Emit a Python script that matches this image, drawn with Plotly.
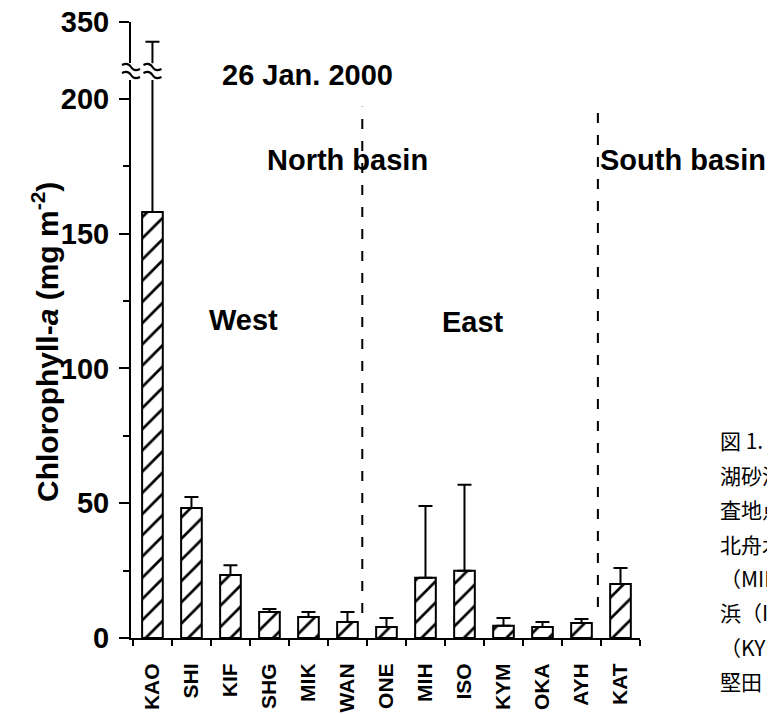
import plotly.graph_objects as go

# ---- data ----
sites = ["KAO", "SHI", "KIF", "SHG", "MIK", "WAN", "ONE", "MIH", "ISO", "KYM", "OKA", "AYH", "KAT"]
chl_mean = [158, 48.2, 23.4, 9.6, 7.8, 5.9, 4.1, 22.3, 24.9, 4.5, 4.1, 5.6, 20.0]
chl_sd = [168, 4.1, 3.6, 1.2, 1.8, 3.7, 3.3, 26.7, 31.9, 2.9, 1.8, 1.4, 6.0]
lower_ticks = [0, 50, 100, 150, 200]
upper_ticks = [350]

# ---- layout geometry (window pixels; the page body has an 8px margin) ----
OFF = 8
W, H = 775 - OFF, 714 - OFF
PL, PR, PT, PB = 131, 640, 22, 638          # plot-area edges in window pixels
ML, MT = PL - OFF, PT - OFF
MR, MB = W - (PR - OFF), H - (PB - OFF)
PW, PH = PR - PL, PB - PT
XR = [-0.55, 12.5]
LOW_DOM = [0, 0.906]
UP_DOM = [0.933, 1.0]


def px(xp):
    return (xp - PL) / PW


def py(yp):
    return (PB - yp) / PH


FONT = "Liberation Sans, Arial, sans-serif"
bar_style = dict(
    color="white",
    line=dict(color="black", width=2),
    pattern=dict(shape="/", fgcolor="black", bgcolor="white", size=15, solidity=0.18, fillmode="replace"),
)
err_style = dict(type="data", symmetric=False, array=chl_sd, arrayminus=[0] * len(chl_sd),
                 color="black", thickness=2, width=7)

fig = go.Figure()
for xa, ya in (("x", "y"), ("x2", "y2")):
    fig.add_trace(go.Bar(x=sites, y=chl_mean, xaxis=xa, yaxis=ya, marker=bar_style,
                         error_y=err_style, showlegend=False, width=0.53))

axis_common = dict(showline=True, linecolor="black", linewidth=2, ticks="outside",
                   tickcolor="black", tickwidth=2, showgrid=False, zeroline=False,
                   automargin=False, ticklabelstandoff=4, ticklabeloverflow="allow",
                   tickfont=dict(family=FONT, size=29, color="black", weight="bold"))

fig.update_layout(
    width=W, height=H,
    margin=dict(l=ML, r=MR, t=MT, b=MB, autoexpand=False),
    paper_bgcolor="white", plot_bgcolor="white",
    xaxis=dict(type="category", range=XR, anchor="y", showline=True, linecolor="black",
               linewidth=2, ticks="outside", tickson="boundaries", ticklen=6, tickwidth=2,
               tickcolor="black", tickangle=-90, showgrid=False, ticklabelstandoff=15,
               automargin=False, ticklabeloverflow="allow",
               tickfont=dict(family=FONT, size=21, color="black", weight="bold")),
    xaxis2=dict(type="category", matches="x", anchor="y2", visible=False, range=XR,
                automargin=False),
    yaxis=dict(domain=LOW_DOM, range=[0, 207], tickvals=lower_ticks, ticklen=10, anchor="x",
               minor=dict(ticks="outside", dtick=25, ticklen=6, tickwidth=1.5, tickcolor="black"),
               **axis_common),
    yaxis2=dict(domain=UP_DOM, range=[300, 350], tickvals=upper_ticks, ticklen=10, anchor="x2",
                **axis_common),
)

# dashed basin separators
for xpos, y0, y1 in ((5.38, 9.3, 197), (11.42, 11.5, 198)):
    fig.add_shape(type="line", xref="x", yref="y", x0=xpos, x1=xpos, y0=y0, y1=y1,
                  line=dict(color="black", width=2, dash="10px,12px"))

# axis-break marks (on y axis and on KAO error line)
def xidx2paper(i):
    return (i - XR[0]) / (XR[1] - XR[0])


for xc in (0.0, xidx2paper(0)):
    for yc in (67, 75):
        path = (f"M {xc - 9 / PW},{py(yc - 2)} "
                f"Q {xc - 3 / PW},{py(yc - 5)} {xc},{py(yc)} "
                f"T {xc + 9 / PW},{py(yc + 2)}")
        fig.add_shape(type="path", xref="paper", yref="paper", path=path,
                      line=dict(color="black", width=2))

big = dict(family=FONT, size=29, color="black", weight="bold")
labels = [("26 Jan. 2000", 220, 75), ("North basin", 265, 160), ("South basin", 598, 160),
          ("West", 207, 320), ("East", 440, 322)]
for txt, xl, yc in labels:
    fig.add_annotation(text=txt, xref="paper", yref="paper", x=px(xl), y=py(yc),
                       xanchor="left", yanchor="middle", showarrow=False, font=big)

fig.add_annotation(text="Chlorophyll-<i>a</i> (mg m<sup>-2</sup>)", xref="paper", yref="paper",
                   x=px(45), y=py(342), textangle=-90, xanchor="center", yanchor="middle",
                   showarrow=False, font=dict(family=FONT, size=30, color="black", weight="bold"))

jp_lines = ["図 1. 琵琶湖", "湖砂浜における", "査地点", "北舟木", "（MIH），",
            "浜（ISO）", "（KYM）", "堅田"]
jp_y = [440, 475, 509, 544, 578, 612, 647, 681]
for txt, yc in zip(jp_lines, jp_y):
    fig.add_annotation(text=txt, xref="paper", yref="paper", x=px(718), y=py(yc),
                       xanchor="left", yanchor="middle", showarrow=False,
                       font=dict(family="Noto Sans CJK JP", size=21, color="black"))

fig.write_html("out.html")
